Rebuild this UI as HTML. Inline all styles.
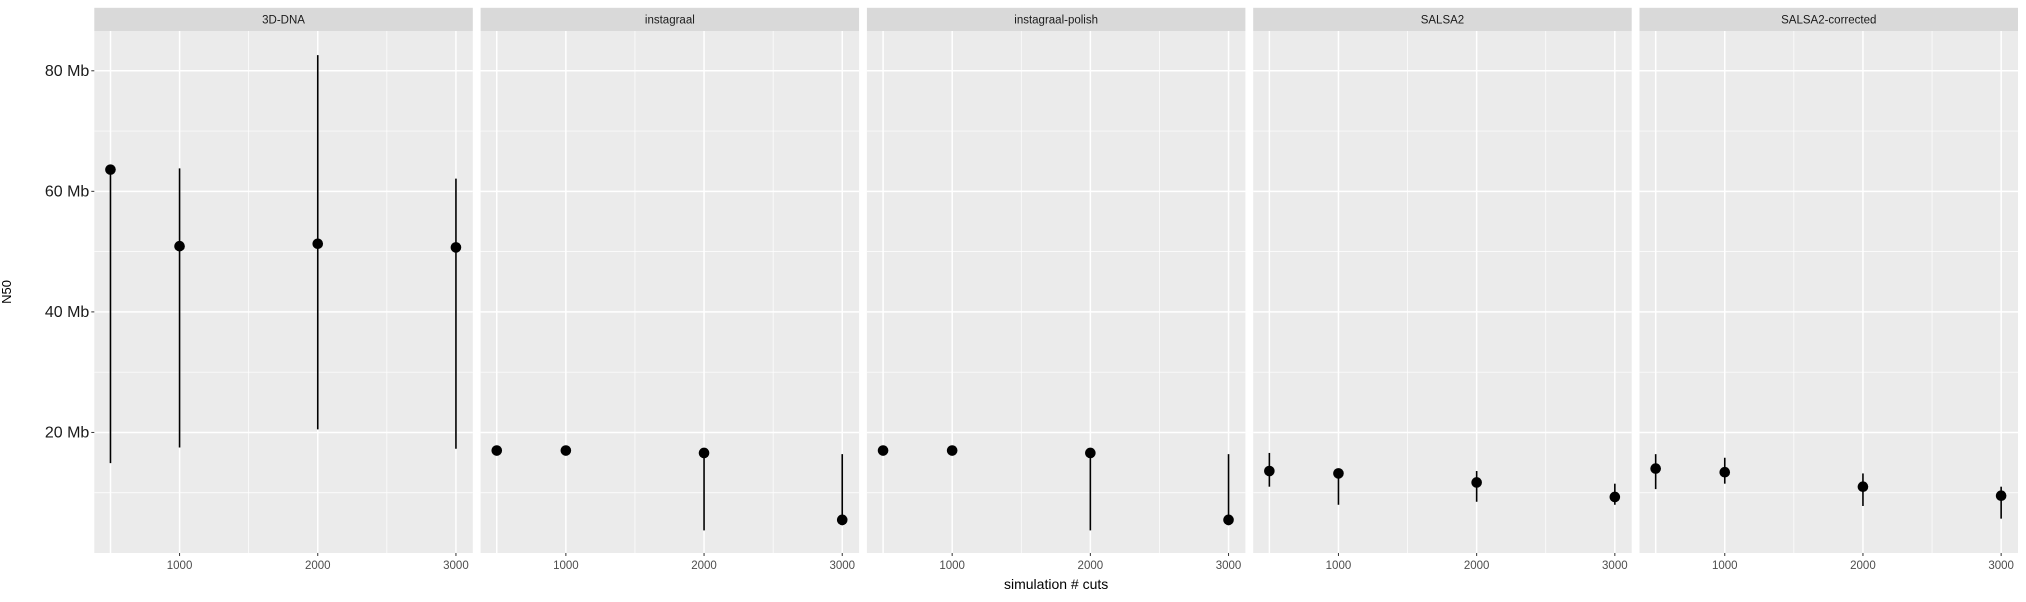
<!DOCTYPE html>
<html><head><meta charset="utf-8"><style>
html,body{margin:0;padding:0;background:#fff;width:2026px;height:602px;overflow:hidden}
svg{display:block;font-family:"Liberation Sans",sans-serif}
</style></head><body>
<svg id="chart" width="2026" height="602" viewBox="0 0 2026 602"></svg>
<script>
const panels = ["3D-DNA","instagraal","instagraal-polish","SALSA2","SALSA2-corrected"];
const cuts = [500,1000,2000,3000];
const medians = [
  [63.6,50.9,51.3,50.7],
  [17.0,17.0,16.6,5.5],
  [17.0,17.0,16.6,5.5],
  [13.6,13.2,11.7,9.3],
  [14.0,13.4,11.0,9.5]
];
const lows = [
  [14.9,17.5,20.5,17.3],
  [17.0,17.0,3.75,4.6],
  [17.0,17.0,3.75,4.6],
  [11.0,8.0,8.5,8.0],
  [10.6,11.5,7.8,5.7]
];
const highs = [
  [64.4,63.8,82.6,62.1],
  [17.0,17.0,16.6,16.4],
  [17.0,17.0,16.6,16.4],
  [16.6,13.2,13.6,11.5],
  [16.4,15.8,13.2,11.0]
];
const yTicks = [20,40,60,80];
const yTickLabels = ["20 Mb","40 Mb","60 Mb","80 Mb"];
const yMinor = [10,30,50,70];
const xTicks = [1000,2000,3000];
const xMinor = [500,1500,2500];

const NS="http://www.w3.org/2000/svg";
const svg=document.getElementById('chart');
const P={top:31,bottom:553,w:378.5,gap:7.8,left0:94.3};
const yMin=0.0, yMax=86.6, xMin=383, xMax=3122;
function yS(v){return P.bottom-(v-yMin)/(yMax-yMin)*(P.bottom-P.top);}
function xS(i,v){const l=P.left0+i*(P.w+P.gap);return l+(v-xMin)/(xMax-xMin)*P.w;}
function el(t,a,parent){const e=document.createElementNS(NS,t);for(const k in a)e.setAttribute(k,a[k]);(parent||svg).appendChild(e);return e;}

panels.forEach((name,i)=>{
  const l=P.left0+i*(P.w+P.gap);
  const g=el('g',{});
  
  
  const bg=el('rect',{x:l,y:P.top,width:P.w,height:P.bottom-P.top,fill:'#ebebeb'},g);
  
  
  const st=el('rect',{x:l,y:7.8,width:P.w,height:P.top-7.8,fill:'#d9d9d9'},g);
  
  
  const stt=el('text',{x:l+P.w/2,y:23.5,'text-anchor':'middle','font-size':'11.5',fill:'#1a1a1a'},g);
  stt.textContent=name;
  
  
  yMinor.forEach(v=>{const ln=el('line',{x1:l,x2:l+P.w,y1:yS(v),y2:yS(v),stroke:'#fff','stroke-width':0.7},g);
    });
  xMinor.forEach(v=>{const ln=el('line',{x1:xS(i,v),x2:xS(i,v),y1:P.top,y2:P.bottom,stroke:'#fff','stroke-width':0.7},g);
    });
  yTicks.forEach(v=>{const ln=el('line',{x1:l,x2:l+P.w,y1:yS(v),y2:yS(v),stroke:'#fff','stroke-width':1.5},g);
    });
  cuts.forEach(v=>{const ln=el('line',{x1:xS(i,v),x2:xS(i,v),y1:P.top,y2:P.bottom,stroke:'#fff','stroke-width':1.5},g);
    });
  xTicks.forEach(v=>{
    const tk=el('line',{x1:xS(i,v),x2:xS(i,v),y1:P.bottom,y2:P.bottom+3,stroke:'#333','stroke-width':1},g);
    
    const t=el('text',{x:xS(i,v),y:P.bottom+16,'text-anchor':'middle','font-size':'11.5',fill:'#4d4d4d'},g);
    t.textContent=v;
    
  });
  cuts.forEach((c,j)=>{
    const r=el('line',{x1:xS(i,c),x2:xS(i,c),y1:yS(lows[i][j]),y2:yS(highs[i][j]),stroke:'#000','stroke-width':1.6},g);
    
    const p=el('circle',{cx:xS(i,c),cy:yS(medians[i][j]),r:5.3,fill:'#000'},g);
    
  });
});
yTicks.forEach((v,k)=>{
  const tk=el('line',{x1:P.left0-3,x2:P.left0,y1:yS(v),y2:yS(v),stroke:'#333','stroke-width':1});
  
  const t=el('text',{x:P.left0-5,y:yS(v)+5,'text-anchor':'end','font-size':'16',fill:'#1a1a1a'});
  t.textContent=yTickLabels[k];
  
});
const yt=el('text',{x:0,y:0,'text-anchor':'middle','font-size':'13',fill:'#000',transform:'translate(11,'+((P.top+P.bottom)/2)+') rotate(-90)'});
yt.textContent='N50';

const xt=el('text',{x:(P.left0+P.left0+5*P.w+4*P.gap)/2,y:589,'text-anchor':'middle','font-size':'14',fill:'#000'});
xt.textContent='simulation # cuts';

</script>
</body></html>
